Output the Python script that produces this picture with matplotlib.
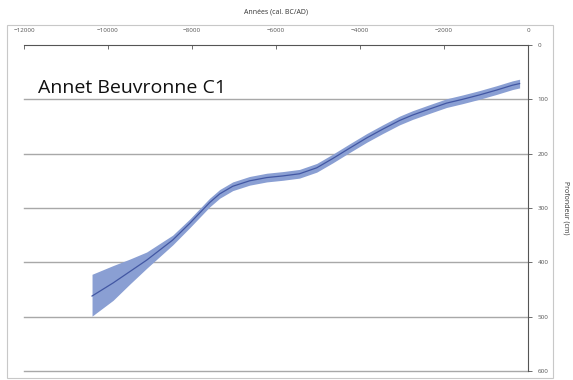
import numpy as np
import matplotlib
matplotlib.use("Agg")
import matplotlib.pyplot as plt
from matplotlib.patches import Rectangle

# ── Data (age in cal. BC/AD, depth in cm) ─────────────────────────────────────
years = [-10380, -9880, -9480, -9080, -8460, -8050, -7815, -7580, -7340,
         -7030, -6630, -6220, -5840, -5440, -5030, -4650, -4250, -3840,
         -3460, -3060, -2750, -2350, -1940, -1560, -1160, -750, -370, -200]
depth = [462, 438, 417, 396, 359, 328, 309, 290, 274,
         260, 250, 244, 241, 237, 226, 209, 190, 171,
         155, 139, 129, 118, 107, 100, 92, 83, 74, 71]
half_width = [40, 32, 23, 15, 9, 8, 8, 8, 8,
              8, 8, 8, 8, 8, 8, 8, 8, 8,
              8, 8, 8, 8, 8, 8, 8, 8, 8, 8]
# the envelope at the oldest end is not symmetric
depth_top = [422, 406, 394, 381] + [d - h for d, h in zip(depth[4:], half_width[4:])]
depth_bot = [499, 470, 440, 411] + [d + h for d, h in zip(depth[4:], half_width[4:])]

x_ticks = [-12000, -10000, -8000, -6000, -4000, -2000, 0]
y_ticks = [0, 100, 200, 300, 400, 500, 600]

plt.rcParams['font.family'] = ['Open Sans', 'DejaVu Sans']

fig = plt.figure(figsize=(5.73, 3.8), dpi=100)
ax = fig.add_axes([24 / 573, 1 - 371 / 380, (528 - 24) / 573, (371 - 45) / 380])

# outer chart frame
fig.patches.append(Rectangle((7 / 573, 1 - 378 / 380), (553 - 7) / 573, (378 - 25) / 380,
                             transform=fig.transFigure, fill=False,
                             edgecolor='#c8c8c8', lw=0.8))

# horizontal gridlines (also the one at 600 on the bottom edge)
for yt in y_ticks[1:]:
    ax.axhline(yt, color='#a8a8a8', lw=1.0, zorder=1, clip_on=False)

ax.fill_between(years, depth_top, depth_bot, color='#8a9fd3', lw=0, zorder=2)
ax.plot(years, depth, color='#4257a3', lw=0.9, zorder=3,
        solid_joinstyle='round')

ax.set_xlim(-12000, 0)
ax.set_ylim(600, 0)
ax.set_xticks(x_ticks)
ax.set_yticks(y_ticks)
ax.xaxis.tick_top()
ax.yaxis.tick_right()
ax.tick_params(axis='both', labelsize=4.5, colors='#555555', length=3, width=0.6)
ax.tick_params(axis='x', direction='in', pad=9)
ax.tick_params(axis='y', direction='out', pad=4)

for s in ['left', 'bottom']:
    ax.spines[s].set_visible(False)
for s in ['top', 'right']:
    ax.spines[s].set_color('#555555')
    ax.spines[s].set_linewidth(0.8)

fig.text(276 / 573, 1 - 12 / 380, 'Années (cal. BC/AD)', ha='center', va='center',
         fontsize=5, color='#333333')
fig.text(566 / 573, 1 - 208 / 380, 'Profondeur (cm)', ha='center', va='center',
         rotation=-90, fontsize=5, color='#333333')
fig.text(38 / 573, 1 - 88 / 380, 'Annet Beuvronne C1', ha='left', va='center',
         fontsize=14, color='#111111')

fig.savefig('out.png', dpi=100)
